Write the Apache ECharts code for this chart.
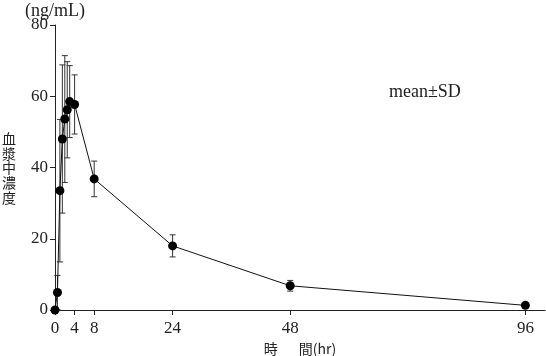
<!DOCTYPE html>
<html>
<head>
<meta charset="utf-8">
<script src="https://cdn.jsdelivr.net/npm/echarts@6/dist/echarts.min.js"></script>
<style>html,body{margin:0;padding:0;background:#fff;}#c{width:546px;height:356px;}</style>
</head>
<body>
<div id="c"></div>
<script>
var times = [0, 0.5, 1, 1.5, 2, 2.5, 3, 4, 8, 24, 48, 96];
var means = [0, 4.9, 33.5, 48.0, 53.6, 56.2, 58.5, 57.7, 36.8, 18.0, 6.8, 1.3];
var sds = [0, 4.8, 20.0, 20.8, 17.8, 13.5, 10.1, 8.3, 5.0, 3.1, 1.5, 0.3];
var xTicks = [0, 4, 8, 24, 48, 96];
var yTicks = [0, 20, 40, 60, 80];

var serif = '"Liberation Serif", "DejaVu Serif", serif';
var cjk = '"Noto Sans CJK JP", sans-serif';

var lineData = times.map(function (t, i) { return [t, means[i]]; });
var errData = times.map(function (t, i) {
  return [t, Math.max(0, means[i] - sds[i]), means[i] + sds[i]];
});

var chart = echarts.init(document.getElementById('c'));
chart.setOption({
  animation: false,
  backgroundColor: '#fff',
  grid: { left: 55, right: 1, top: 25, bottom: 46, containLabel: false, outerBoundsMode: 'none' },
  xAxis: {
    type: 'value', min: 0, max: 100,
    name: '時\u3000\u2002間(hr)', nameLocation: 'middle', nameGap: 31,
    nameTextStyle: { fontFamily: cjk, fontSize: 14, color: '#222' },
    axisLine: { show: true, lineStyle: { color: '#222', width: 1 } },
    axisTick: { show: true, customValues: xTicks, length: 5, lineStyle: { color: '#222' } },
    axisLabel: { customValues: xTicks, fontFamily: serif, fontSize: 17, color: '#222', margin: 10 },
    splitLine: { show: false }
  },
  yAxis: {
    type: 'value', min: 0, max: 80, interval: 20,
    axisLine: { show: true, lineStyle: { color: '#222', width: 1 } },
    axisTick: { show: true, length: 5, lineStyle: { color: '#222' } },
    axisLabel: { customValues: yTicks, fontFamily: serif, fontSize: 17, color: '#222', margin: 7 },
    splitLine: { show: false }
  },
  graphic: [
    { type: 'text', left: 25, top: 2,
      style: { text: '(ng/mL)', font: '18px ' + serif, fill: '#222' } },
    { type: 'text', left: 2, top: 131,
      style: { text: '血\n漿\n中\n濃\n度', font: '14px ' + cjk, fill: '#222', lineHeight: 14.8 } },
    { type: 'text', left: 389, top: 83,
      style: { text: 'mean±SD', font: '18px ' + serif, fill: '#222' } }
  ],
  series: [
    {
      type: 'custom',
      data: errData,
      z: 2,
      renderItem: function (params, api) {
        var x = api.value(0);
        var lo = api.coord([x, api.value(1)]);
        var hi = api.coord([x, api.value(2)]);
        var cw = 3;
        var st = { stroke: '#333', lineWidth: 1 };
        return {
          type: 'group',
          children: [
            { type: 'line', shape: { x1: lo[0], y1: lo[1], x2: hi[0], y2: hi[1] }, style: st },
            { type: 'line', shape: { x1: hi[0] - cw, y1: hi[1], x2: hi[0] + cw, y2: hi[1] }, style: st },
            { type: 'line', shape: { x1: lo[0] - cw, y1: lo[1], x2: lo[0] + cw, y2: lo[1] }, style: st }
          ]
        };
      }
    },
    {
      type: 'line',
      data: lineData,
      z: 3,
      symbol: 'circle', symbolSize: 9,
      itemStyle: { color: '#000' },
      lineStyle: { color: '#111', width: 1 }
    }
  ]
});
</script>
</body>
</html>
